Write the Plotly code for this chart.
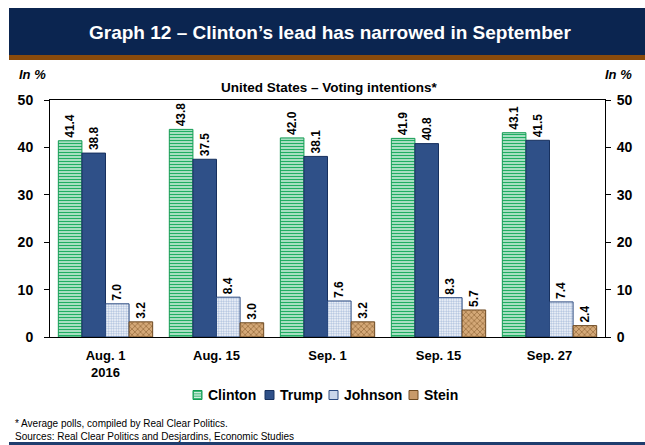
import plotly.graph_objects as go

# Survey dates and average poll results (%)
dates = ["Aug. 1<br>2016", "Aug. 15", "Sep. 1", "Sep. 15", "Sep. 27"]
clinton = [41.4, 43.8, 42.0, 41.9, 43.1]
trump = [38.8, 37.5, 38.1, 40.8, 41.5]
johnson = [7.0, 8.4, 7.6, 8.3, 7.4]
stein = [3.2, 3.0, 3.2, 5.7, 2.4]
y_ticks = [0, 10, 20, 30, 40, 50]

FONT = "Liberation Sans, Arial, sans-serif"
NAVY = "#0b2550"

W, H = 645, 445
L, R, T, B = 50, 40, 100, 108
PW, PH = W - L - R, H - T - B


def px(x):
    return (x - L) / PW


def py(y):
    return (H - B - y) / PH


series = [
    ("Clinton", clinton, dict(color="white", line=dict(color="#129b52", width=1),
                              pattern=dict(shape="-", fgcolor="#1fae62", bgcolor="white",
                                           size=3, solidity=0.6, fillmode="replace"))),
    ("Trump", trump, dict(color="#2f5088", line=dict(color="#17305e", width=1))),
    ("Johnson", johnson, dict(color="white", line=dict(color="#2b4a80", width=1),
                              pattern=dict(shape=".", fgcolor="#a9bddc", bgcolor="white",
                                           size=2.5, solidity=0.5, fillmode="replace"))),
    ("Stein", stein, dict(color="#c89a6a", line=dict(color="#6e4a22", width=1),
                          pattern=dict(shape="x", fgcolor="#8f6535", bgcolor="#d4a877",
                                       size=4, solidity=0.3, fillmode="replace"))),
]

fig = go.Figure()
for name, vals, marker in series:
    fig.add_trace(go.Bar(
        name=name, x=dates, y=vals, marker=marker,
        text=[f"<b>{v:.1f}</b>" for v in vals], textposition="outside", textangle=-90,
        cliponaxis=False, showlegend=False,
        textfont=dict(family=FONT, size=12, color="black"),
    ))

# invisible trace to carry the right-hand axis
fig.add_trace(go.Scatter(x=dates, y=[None] * len(dates), yaxis="y2",
                         showlegend=False, hoverinfo="skip"))

axis_font = dict(family=FONT, size=14, color="black")
fig.update_layout(
    width=W, height=H,
    margin=dict(l=L, r=R, t=T, b=B, autoexpand=False),
    paper_bgcolor="white", plot_bgcolor="white",
    barmode="group", bargap=0.15, bargroupgap=0,
    font=dict(family=FONT, color="black"),
    xaxis=dict(showline=True, linecolor="black", linewidth=1, mirror=True,
               ticks="", tickfont=dict(family=FONT, size=13, color="black"),
               tickvals=dates, ticktext=[f"<b>{d}</b>" for d in dates],
               ticklabelstandoff=6, showgrid=False),
    yaxis=dict(range=[0, 50], tickvals=y_ticks, ticktext=[f"<b>{v}</b>" for v in y_ticks],
               showline=True, linecolor="black", linewidth=1, ticks="outside", ticklen=5,
               tickcolor="black", tickfont=axis_font, ticklabelstandoff=8,
               showgrid=False, zeroline=False),
    yaxis2=dict(range=[0, 50], tickvals=y_ticks, ticktext=[f"<b>{v}</b>" for v in y_ticks],
                overlaying="y", side="right", showline=True, linecolor="black",
                linewidth=1, ticks="outside", ticklen=5, tickcolor="black",
                tickfont=axis_font, ticklabelstandoff=3, showgrid=False, zeroline=False),
    showlegend=False,
)

# header band with brown rule underneath, and bottom rule
fig.add_shape(type="rect", xref="paper", yref="paper", x0=px(9), x1=px(645),
              y0=py(55), y1=py(8), fillcolor=NAVY, line=dict(width=0), layer="below")
fig.add_shape(type="rect", xref="paper", yref="paper", x0=px(9), x1=px(645),
              y0=py(60), y1=py(55), fillcolor="#8a4b0c", line=dict(width=0), layer="below")
fig.add_shape(type="rect", xref="paper", yref="paper", x0=px(9), x1=px(645),
              y0=py(445), y1=py(442), fillcolor="#1f3d6e", line=dict(width=0), layer="below")


def note(x, y, text, size, color="black", xanchor="center", bold=True, italic=False):
    t = text
    if bold:
        t = f"<b>{t}</b>"
    if italic:
        t = f"<i>{t}</i>"
    fig.add_annotation(xref="paper", yref="paper", x=px(x), y=py(y), text=t,
                       showarrow=False, xanchor=xanchor, yanchor="middle",
                       font=dict(family=FONT, size=size, color=color))


note(330, 33, "Graph 12 – Clinton’s lead has narrowed in September", 19, color="white")
note(17, 75, "In %", 13, xanchor="left", italic=True)
note(634, 75, "In %", 13, xanchor="right", italic=True)
note(329, 88, "United States – Voting intentions*", 13.5)
note(13, 423, "* Average polls, compiled by Real Clear Politics.", 10, xanchor="left", bold=False)
note(13, 436, "Sources: Real Clear Politics and Desjardins, Economic Studies", 10,
     xanchor="left", bold=False)

# compact legend: small swatches followed by bold names
legend_items = [
    ("Clinton", 193, "#3fb878", "#129b52"),
    ("Trump", 265, "#2f5088", "#17305e"),
    ("Johnson", 329, "#c9d6ea", "#2b4a80"),
    ("Stein", 409, "#c89a6a", "#6e4a22"),
]
ly, sw = 395, 9
for name, x0, fill, edge in legend_items:
    fig.add_shape(type="rect", xref="paper", yref="paper",
                  x0=px(x0), x1=px(x0 + sw), y0=py(ly + sw / 2), y1=py(ly - sw / 2),
                  fillcolor=fill, line=dict(color=edge, width=1))
    if name == "Clinton":
        for k in range(1, 4):
            yy = ly - sw / 2 + k * sw / 4
            fig.add_shape(type="line", xref="paper", yref="paper",
                          x0=px(x0 + 1), x1=px(x0 + sw - 1), y0=py(yy), y1=py(yy),
                          line=dict(color="white", width=1))
    note(x0 + sw + 4, ly, name, 14, xanchor="left")

fig.write_html("out.html")
